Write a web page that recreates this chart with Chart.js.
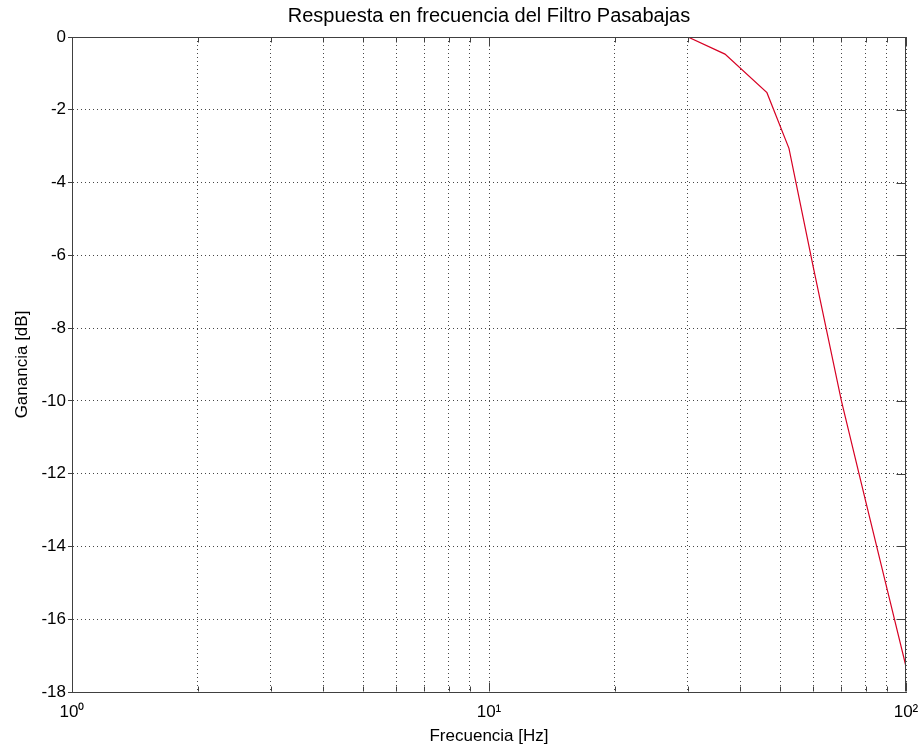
<!DOCTYPE html>
<html><head><meta charset="utf-8">
<script src="https://cdn.jsdelivr.net/npm/chart.js@4/dist/chart.umd.min.js"></script>
<style>html,body{margin:0;padding:0;background:#fff}#c{display:block}</style>
</head><body>
<canvas id="c" width="920" height="748"></canvas>
<script>
const chartTitle = 'Respuesta en frecuencia del Filtro Pasabajas';
const xAxisTitle = 'Frecuencia [Hz]';
const yAxisTitle = 'Ganancia [dB]';
const frequencyHz = [30, 36.8, 46.4, 52.4, 60, 70, 80, 90, 100];
const gainDb = [0, -0.47, -1.53, -3.06, -6.35, -10.0, -12.75, -15.15, -17.3];
const xTickValues = [1, 2, 3, 4, 5, 6, 7, 8, 9, 10, 20, 30, 40, 50, 60, 70, 80, 90, 100];
const xDecadeValues = [1, 10, 100];
const xDecadeLabels = ['10⁰', '10¹', '10²'];
const yMin = -18, yMax = 0, yStep = 2;

const FONT = 'Liberation Sans, Arial, Helvetica, sans-serif';
const FRAME = '#404040';
const GRID = 'rgba(0,0,0,0.72)';

const frameTicks = {
  id: 'frameTicks',
  afterDatasetsDraw(chart) {
    const {ctx, chartArea: a, scales: {x, y}} = chart;
    const left = Math.round(a.left) + 0.5, right = Math.round(a.right) - 0.5;
    const top = Math.round(a.top) + 0.5, bottom = Math.round(a.bottom) - 0.5;
    ctx.save();
    ctx.strokeStyle = FRAME; ctx.lineWidth = 1; ctx.setLineDash([]);
    ctx.beginPath();
    ctx.moveTo(left, top); ctx.lineTo(right, top); ctx.lineTo(right, bottom);
    y.ticks.forEach(t => {
      const py = Math.round(y.getPixelForValue(t.value)) + 0.5;
      ctx.moveTo(right, py); ctx.lineTo(right - 9, py);
    });
    x.ticks.forEach(t => {
      const px = Math.round(x.getPixelForValue(t.value)) + 0.5;
      const len = xDecadeValues.includes(t.value) ? 9 : 5;
      ctx.moveTo(px, bottom); ctx.lineTo(px, bottom - len);
      ctx.moveTo(px, top); ctx.lineTo(px, top + len);
    });
    ctx.stroke();
    ctx.restore();
  }
};

new Chart(document.getElementById('c'), {
  type: 'scatter',
  data: {
    datasets: [{
      data: frequencyHz.map((f, i) => ({x: f, y: gainDb[i]})),
      showLine: true,
      borderColor: 'rgb(215,0,35)',
      borderWidth: 1.2,
      pointRadius: 0,
      fill: false,
      tension: 0
    }]
  },
  options: {
    responsive: false,
    animation: false,
    devicePixelRatio: 1,
    layout: {padding: {left: 0, right: 14, top: 0, bottom: 0}},
    plugins: {
      legend: {display: false},
      tooltip: {enabled: false},
      title: {display: false}
    },
    scales: {
      x: {
        type: 'logarithmic', min: 1, max: 100,
        afterBuildTicks: s => { s.ticks = xTickValues.map(v => ({value: v})); },
        afterFit: s => { s.height = 56; s.paddingLeft = 0; s.paddingRight = 0; },
        ticks: {
          autoSkip: false, maxRotation: 0, color: '#000', padding: 10,
          font: {family: FONT, size: 17},
          callback: v => { const i = xDecadeValues.indexOf(v); return i >= 0 ? xDecadeLabels[i] : ''; }
        },
        grid: {color: GRID, drawTicks: false, lineWidth: 1},
        border: {display: true, color: FRAME, width: 1, dash: [1, 3]},
        title: {display: true, text: xAxisTitle, color: '#000', font: {family: FONT, size: 17}, padding: {top: 0, bottom: 1}}
      },
      titleAxis: {
        type: 'linear', position: 'top', axis: 'x',
        afterFit: s => { s.height = 37; s.paddingLeft = 0; s.paddingRight = 0; },
        ticks: {display: false},
        grid: {display: false, drawOnChartArea: false, drawTicks: false},
        border: {display: false},
        title: {display: true, text: chartTitle, color: '#000', font: {family: FONT, size: 20}, padding: {top: 4, bottom: 9}}
      },
      y: {
        min: yMin, max: yMax,
        afterFit: s => { s.width = 72; s.paddingTop = 0; s.paddingBottom = 0; },
        ticks: {stepSize: yStep, color: '#000', padding: 2, font: {family: FONT, size: 17}},
        grid: {color: GRID, tickColor: FRAME, tickLength: 4, tickBorderDash: [], lineWidth: 1},
        border: {display: true, color: FRAME, width: 1, dash: [1, 3]},
        title: {display: true, text: yAxisTitle, color: '#000', font: {family: FONT, size: 17}, padding: {top: 12, bottom: 0}}
      }
    }
  },
  plugins: [frameTicks]
});
</script>
</body></html>
